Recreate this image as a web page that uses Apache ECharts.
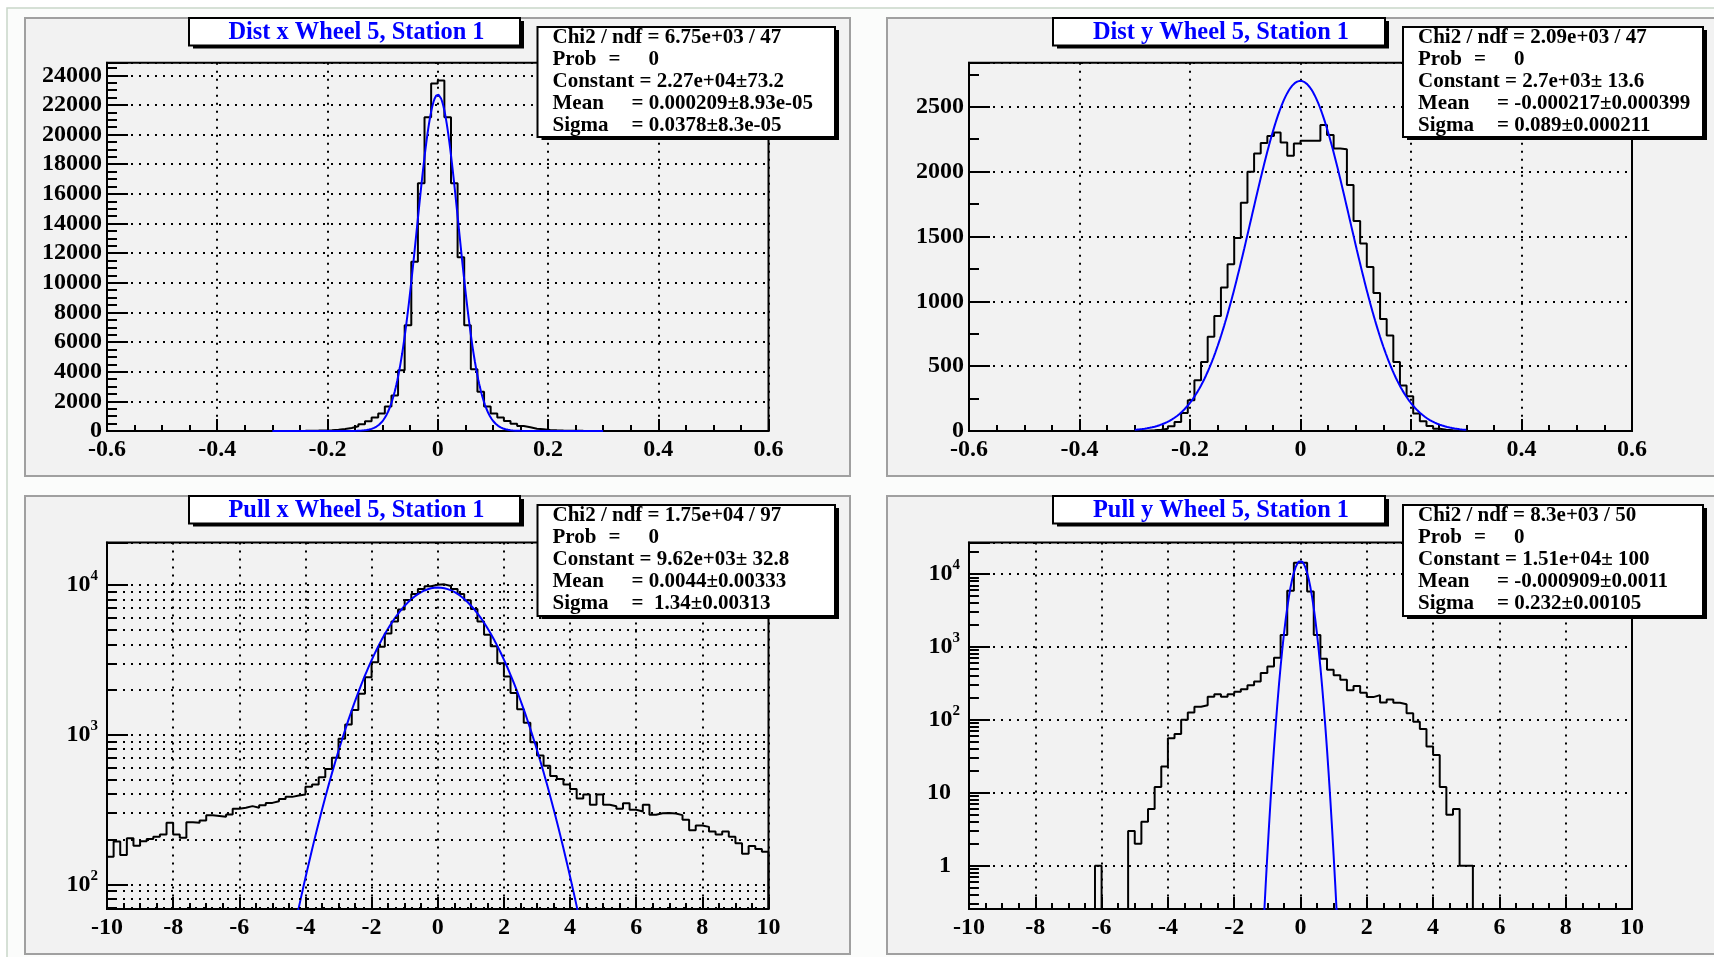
<!DOCTYPE html>
<html>
<head>
<meta charset="utf-8">
<title>Wheel 5, Station 1</title>
<script src="https://cdn.jsdelivr.net/npm/echarts@6.0.0/dist/echarts.min.js"></script>
<style>
  html, body { margin: 0; padding: 0; background: #ffffff; }
  #main { width: 1714px; height: 957px; }
</style>
</head>
<body>
<div id="main"></div>
<script>
// Dist x / Dist y: bins of 0.012 from -0.3 to 0.3 (the rest is empty)
var distFirstEdge = -0.3;
var distBinWidth = 0.012;
var distXCounts = [2, 3, 5, 8, 12, 18, 28, 40, 58, 90,
  136, 203, 316, 452, 655, 904, 1180, 1660, 2400, 4100,
  7140, 11420, 16710, 21170, 23450, 23650, 21170, 16710, 11720, 7140,
  4170, 2640, 1660, 1180, 904, 678, 497, 339, 249, 158,
  113, 68, 45, 30, 20, 14, 9, 6, 4, 2];
var distYCounts = [1, 2, 5, 10, 18, 36, 69, 139, 238, 391,
  532, 726, 886, 1106, 1286, 1489, 1760, 2000, 2140, 2220,
  2274, 2302, 2224, 2122, 2217, 2238, 2238, 2238, 2360, 2282,
  2178, 2173, 1896, 1620, 1445, 1265, 1065, 864, 736, 532,
  350, 267, 134, 75, 39, 18, 10, 5, 2, 1];

// Pull x: bins of 0.2 from -10 to 10
var pullBinWidth = 0.2;
var pullXFirstEdge = -10;
var pullXCounts = [153, 193, 157, 203, 181, 194, 201, 208, 215, 258,
  215, 205, 260, 258, 267, 289, 286, 283, 293, 320,
  325, 333, 325, 337, 350, 359, 372, 384, 392, 398,
  448, 464, 520, 590, 700, 940, 1170, 1460, 1880, 2420,
  3050, 3860, 4750, 5700, 6850, 7950, 8700, 9400, 9800, 10050,
  10100, 9850, 9400, 8700, 7900, 6900, 5700, 4650, 3900, 3000,
  2450, 1900, 1480, 1200, 890, 725, 620, 530, 505, 465,
  433, 375, 398, 340, 398, 340, 332, 320, 348, 315,
  307, 340, 292, 298, 300, 297, 290, 270, 230, 247,
  242, 225, 215, 225, 208, 188, 160, 180, 172, 165];

// Pull y: bins of 0.2 from -6.2 to 5.2 (the rest is empty)
var pullYFirstEdge = -6.2;
var pullYCounts = [1, 0, 0, 0, 0, 3, 2, 4, 6, 12,
  23, 56, 64, 100, 126, 151, 158, 207, 225, 207,
  225, 243, 262, 297, 335, 437, 538, 712, 1460, 5900,
  14200, 14200, 5750, 1460, 686, 485, 410, 354, 255, 291,
  236, 205, 218, 173, 190, 172, 164, 123, 94, 75,
  43, 33, 12, 5, 6, 1, 1];

// gaussian fits as printed in the stat boxes: [constant, mean, sigma, from, to]
var fitDistX = [22700, 0.000209, 0.0378, -0.3, 0.3];
var fitDistY = [2700, -0.000217, 0.089, -0.3, 0.3];
var fitPullX = [9620, 0.0044, 1.34, -10, 10];
var fitPullY = [15100, -0.000909, 0.232, -10, 10];

var titles = ['Dist x Wheel 5, Station 1', 'Dist y Wheel 5, Station 1',
  'Pull x Wheel 5, Station 1', 'Pull y Wheel 5, Station 1'];

var chi2Lines = ['Chi2 / ndf = 6.75e+03 / 47', 'Chi2 / ndf = 2.09e+03 / 47',
  'Chi2 / ndf = 1.75e+04 / 97', 'Chi2 / ndf = 8.3e+03 / 50'];
var constantLines = ['Constant = 2.27e+04\u00b173.2', 'Constant = 2.7e+03\u00b1 13.6',
  'Constant = 9.62e+03\u00b1 32.8', 'Constant = 1.51e+04\u00b1 100'];
var meanValues = ['= 0.000209\u00b18.93e-05', '= -0.000217\u00b10.000399',
  '= 0.0044\u00b10.00333', '= -0.000909\u00b10.0011'];
var sigmaValues = ['= 0.0378\u00b18.3e-05', '= 0.089\u00b10.000211',
  '=  1.34\u00b10.00313', '= 0.232\u00b10.00105'];

var FONT = 'Liberation Serif';
var chart = echarts.init(document.getElementById('main'));

function histPoints(firstEdge, width, counts, floor) {
  var pts = [[firstEdge, floor]];
  for (var i = 0; i < counts.length; i++) {
    pts.push([firstEdge + i * width, Math.max(counts[i], floor)]);
  }
  var last = firstEdge + counts.length * width;
  pts.push([last, Math.max(counts[counts.length - 1], floor)]);
  pts.push([last, floor]);
  return pts;
}

// the fit curve, evaluated from the printed parameters; on log axes it is
// kept positive and the part under the frame is clipped away
function fitPoints(p, floor) {
  var pts = [];
  var n = 400;
  for (var i = 0; i <= n; i++) {
    var x = p[3] + (p[4] - p[3]) * i / n;
    var y = p[0] * Math.exp(-0.5 * Math.pow((x - p[1]) / p[2], 2));
    if (floor && y < floor * 0.001) y = floor * 0.001;
    pts.push([x, y]);
  }
  return pts;
}

var dotted = {color: '#000', width: 2, type: [2, 6]};
var blackLine = {color: '#000', width: 2};
var labelBase = {color: '#000', fontFamily: FONT, fontWeight: 'bold', fontSize: 24};

function xAxis(gi, min, max, interval) {
  return {
    type: 'value', gridIndex: gi, min: min, max: max, interval: interval,
    axisLine: {onZero: false, lineStyle: blackLine},
    axisTick: {inside: true, length: 12, lineStyle: blackLine},
    minorTick: {show: true, splitNumber: 4, length: 6, lineStyle: blackLine},
    splitLine: {show: true, lineStyle: dotted},
    axisLabel: Object.assign({margin: 7}, labelBase)
  };
}

function linYAxis(gi, max, interval, minorSplit) {
  return {
    type: 'value', gridIndex: gi, min: 0, max: max, interval: interval,
    axisLine: {onZero: false, lineStyle: blackLine},
    axisTick: {inside: true, length: 21, lineStyle: blackLine},
    minorTick: {show: true, splitNumber: minorSplit, length: 10, lineStyle: blackLine},
    splitLine: {show: true, lineStyle: dotted},
    axisLabel: Object.assign({
      margin: 5,
      formatter: function (v) {
        var r = Math.round(v);
        return r % interval === 0 ? String(r) : '';
      }
    }, labelBase)
  };
}

function logLabel(v) {
  var e = Math.round(Math.log10(v));
  if (Math.abs(v / Math.pow(10, e) - 1) > 1e-6) return '';
  if (e === 0) return '{b|1}{p| }';
  if (e === 1) return '{b|10}{p| }';
  return '{b|10}{s|' + e + '}';
}

function logYAxis(gi, min, max) {
  return {
    type: 'log', logBase: 10, gridIndex: gi, min: min, max: max,
    axisLine: {onZero: false, lineStyle: blackLine},
    axisTick: {inside: true, length: 21, lineStyle: blackLine},
    minorTick: {show: false},
    splitLine: {show: true, lineStyle: dotted},
    axisLabel: {
      margin: 9,
      formatter: logLabel,
      rich: {
        b: {color: '#000', fontFamily: FONT, fontWeight: 'bold', fontSize: 24, lineHeight: 32},
        s: {color: '#000', fontFamily: FONT, fontWeight: 'bold', fontSize: 15, lineHeight: 16, verticalAlign: 'top'},
        p: {fontSize: 15, width: 9}
      }
    }
  };
}

// minor ticks (2..9 of each decade) on the log axes, drawn as short segments
function logMinorValues(min, max) {
  var out = [];
  for (var e = -2; e <= 5; e++) {
    for (var k = 2; k <= 9; k++) {
      var v = k * Math.pow(10, e);
      if (v > min && v < max) out.push(v);
    }
  }
  return out;
}

function minorTickLines(values, x0, len) {
  return values.map(function (v) {
    return [{coord: [x0, v], lineStyle: {type: 'solid', color: '#000', width: 2}}, {coord: [x0 + len, v]}];
  });
}

var pullXMin = 68.4, pullXMax = 19230;
var pullYMin = 0.255, pullYMax = 27000;
var pullXMinor = logMinorValues(pullXMin, pullXMax);
var pullYMinor = logMinorValues(pullYMin, pullYMax);

var markBase = {symbol: ['none', 'none'], silent: true, animation: false, label: {show: false}, emphasis: {disabled: true}};

function histSeries(gi, pts, extraMark) {
  var s = {
    type: 'line', xAxisIndex: gi, yAxisIndex: gi, data: pts, step: 'end',
    symbol: 'none', lineStyle: {color: '#000', width: 2}, z: 3, silent: true, animation: false
  };
  if (extraMark) s.markLine = extraMark;
  return s;
}

function fitSeries(gi, pts) {
  return {
    type: 'line', xAxisIndex: gi, yAxisIndex: gi, data: pts, symbol: 'none', clip: true,
    lineStyle: {color: '#0000ff', width: 2}, z: 4, silent: true, animation: false
  };
}

// Pull x: minor ticks plus a dotted grid line at every minor tick
var pullXMarks = Object.assign({}, markBase, {
  data: minorTickLines(pullXMinor, -10, 0.3).concat(pullXMinor.map(function (v) {
    return {yAxis: v, lineStyle: dotted};
  }))
});
// Pull y: minor ticks only
var pullYMarks = Object.assign({}, markBase, {
  data: minorTickLines(pullYMinor, -10, 0.3)
});

// pads, title boxes and stat boxes
var graphics = [];
graphics.push({type: 'rect', shape: {x: 7, y: 8, width: 1720, height: 960}, style: {fill: '#fbfcfb', stroke: '#c9d6c9', lineWidth: 1.5}, z: -20});
var pads = [[25, 18, 825, 458], [887, 18, 840, 458], [25, 496, 825, 458], [887, 496, 840, 458]];
pads.forEach(function (p) {
  graphics.push({type: 'rect', shape: {x: p[0], y: p[1], width: p[2], height: p[3]}, style: {fill: '#f2f2f2', stroke: '#a0a0a0', lineWidth: 2}, z: -10});
});

function shadowBox(x, y, w, h) {
  graphics.push({type: 'rect', shape: {x: x + 4, y: y + 3, width: w, height: h}, style: {fill: '#000'}, z: 100});
  graphics.push({type: 'rect', shape: {x: x, y: y, width: w, height: h}, style: {fill: '#fff', stroke: '#000', lineWidth: 2}, z: 101});
}
function text(x, y, s, size, color, align) {
  graphics.push({type: 'text', x: x, y: y, z: 102, style: {
    text: s, fontFamily: FONT, fontWeight: 'bold', fontSize: size, fill: color || '#000',
    align: align || 'left', verticalAlign: 'middle'
  }});
}

var titleBoxes = [[189, 18, 331, 27.5], [1053, 18, 332, 27.5], [189, 496, 331, 27.5], [1053, 496, 332, 27.5]];
var statBoxes = [[537.5, 27, 297.5, 110], [1403, 27, 300, 110], [537.5, 505, 297.5, 111], [1403, 505, 300, 111]];

titleBoxes.forEach(function (b, i) {
  shadowBox(b[0], b[1], b[2], b[3]);
  text(b[0] + b[2] / 2 + 2, b[1] + b[3] / 2 + 1, titles[i], 24.4, '#0000ff', 'center');
});
statBoxes.forEach(function (b, i) {
  shadowBox(b[0], b[1], b[2], b[3]);
  var x0 = b[0] + 15, y0 = b[1] + 11, dy = 21.9;
  text(x0, y0, chi2Lines[i], 21);
  text(x0, y0 + dy, 'Prob', 21);
  text(x0 + 56, y0 + dy, '=', 21);
  text(x0 + 96, y0 + dy, '0', 21);
  text(x0, y0 + 2 * dy, constantLines[i], 21);
  text(x0, y0 + 3 * dy, 'Mean', 21);
  text(x0 + 79, y0 + 3 * dy, meanValues[i], 21);
  text(x0, y0 + 4 * dy, 'Sigma', 21);
  text(x0 + 79, y0 + 4 * dy, sigmaValues[i], 21);
});

var gridBase = {show: true, backgroundColor: '#f2f2f2', borderColor: '#000', borderWidth: 2, containLabel: false, outerBoundsMode: 'none'};

var option = {
  animation: false,
  backgroundColor: '#ffffff',
  textStyle: {fontFamily: FONT},
  graphic: graphics,
  grid: [
    Object.assign({left: 107, top: 62.7, width: 661.5, height: 368.3}, gridBase),
    Object.assign({left: 969, top: 62.7, width: 663, height: 368.3}, gridBase),
    Object.assign({left: 107, top: 542.5, width: 661.5, height: 366.5}, gridBase),
    Object.assign({left: 969, top: 542.5, width: 663, height: 366.5}, gridBase)
  ],
  xAxis: [
    xAxis(0, -0.6, 0.6, 0.2),
    xAxis(1, -0.6, 0.6, 0.2),
    xAxis(2, -10, 10, 2),
    xAxis(3, -10, 10, 2)
  ],
  yAxis: [
    linYAxis(0, 24850, 2000, 4),
    linYAxis(1, 2840, 500, 2),
    logYAxis(2, pullXMin, pullXMax),
    logYAxis(3, pullYMin, pullYMax)
  ],
  series: [
    histSeries(0, histPoints(distFirstEdge, distBinWidth, distXCounts, 0)),
    fitSeries(0, fitPoints(fitDistX)),
    histSeries(1, histPoints(distFirstEdge, distBinWidth, distYCounts, 0)),
    fitSeries(1, fitPoints(fitDistY)),
    histSeries(2, histPoints(pullXFirstEdge, pullBinWidth, pullXCounts, pullXMin), pullXMarks),
    fitSeries(2, fitPoints(fitPullX, pullXMin)),
    histSeries(3, histPoints(pullYFirstEdge, pullBinWidth, pullYCounts, pullYMin), pullYMarks),
    fitSeries(3, fitPoints(fitPullY, pullYMin))
  ]
};
chart.setOption(option);
</script>
</body>
</html>
